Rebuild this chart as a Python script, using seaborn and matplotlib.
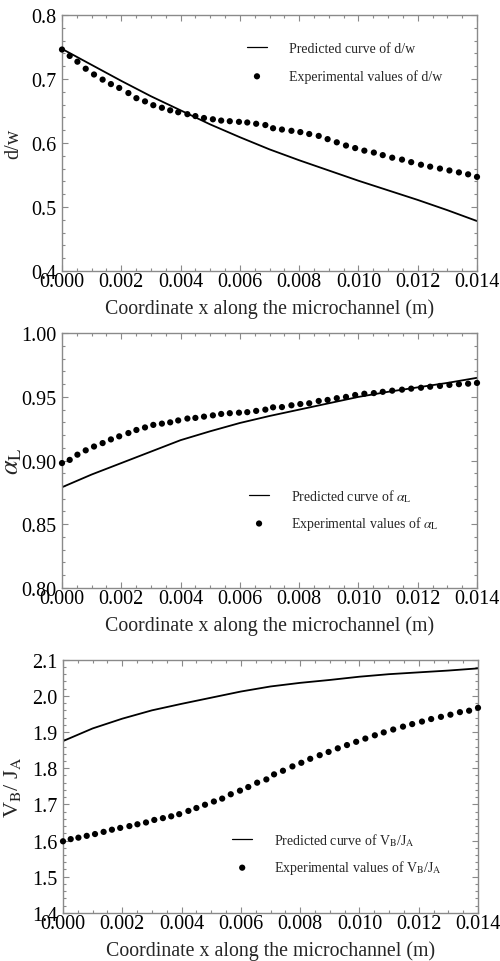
import numpy as np
import pandas as pd
import matplotlib
matplotlib.use("Agg")
import matplotlib.pyplot as plt
from matplotlib.ticker import MultipleLocator, FormatStrFormatter
import seaborn as sns

# ---------------- data ----------------
X_CURVE = [0.000, 0.001, 0.002, 0.003, 0.004, 0.005, 0.006, 0.007,
           0.008, 0.009, 0.010, 0.011, 0.012, 0.013, 0.014]

DW_CURVE = [0.747, 0.722, 0.697, 0.673, 0.651, 0.629, 0.609, 0.590,
            0.573, 0.557, 0.541, 0.526, 0.511, 0.495, 0.478]
AL_CURVE = [0.879, 0.889, 0.898, 0.907, 0.916, 0.923, 0.9295, 0.935,
            0.940, 0.945, 0.950, 0.954, 0.9575, 0.961, 0.965]
VJ_CURVE = [1.875, 1.910, 1.937, 1.960, 1.978, 1.995, 2.012, 2.026,
            2.036, 2.044, 2.053, 2.060, 2.065, 2.070, 2.076]

X_EXP = [0.0, 0.00026, 0.00052, 0.00080, 0.00108, 0.00137, 0.00165, 0.00193,
         0.00224, 0.00251, 0.00280, 0.00308, 0.00337, 0.00365, 0.00392, 0.00423,
         0.00450, 0.00479, 0.00509, 0.00537, 0.00566, 0.00597, 0.00625, 0.00655,
         0.00686, 0.00712, 0.00742, 0.00774, 0.00804, 0.00834, 0.00866, 0.00896,
         0.00927, 0.00958, 0.00989, 0.01020, 0.01052, 0.01082, 0.01114, 0.01147,
         0.01178, 0.01211, 0.01242, 0.01275, 0.01307, 0.01339, 0.01370, 0.01400]

DW_EXP = [0.746, 0.736, 0.727, 0.716, 0.707, 0.699, 0.692, 0.686, 0.678, 0.670,
          0.665, 0.659, 0.655, 0.651, 0.648, 0.645, 0.642, 0.639, 0.637, 0.635,
          0.634, 0.633, 0.632, 0.630, 0.628,
          0.623, 0.621, 0.619, 0.617, 0.614, 0.611, 0.606, 0.601, 0.596, 0.592,
          0.588, 0.585, 0.581, 0.577, 0.574, 0.570, 0.566, 0.563, 0.560, 0.557,
          0.554, 0.551, 0.547]
AL_EXP = [0.898, 0.9005, 0.9046, 0.908, 0.911, 0.9137, 0.9166, 0.919, 0.9216, 0.924,
          0.926, 0.928, 0.929, 0.930, 0.9315, 0.933, 0.9335, 0.9345, 0.9355, 0.9366,
          0.9372, 0.9376, 0.938, 0.939, 0.940,
          0.9418, 0.942, 0.9434, 0.9444, 0.945, 0.9468, 0.9476, 0.949, 0.950, 0.9515,
          0.9525, 0.953, 0.954, 0.9549, 0.9557, 0.9565, 0.9572, 0.958, 0.9586, 0.9594,
          0.960, 0.9604, 0.961]
VJ_EXP = [1.598, 1.604, 1.608, 1.613, 1.618, 1.624, 1.630, 1.635, 1.640, 1.645,
          1.650, 1.657, 1.662, 1.667, 1.673, 1.682, 1.690, 1.699, 1.708, 1.716,
          1.728, 1.738, 1.748, 1.760, 1.769,
          1.783, 1.793, 1.805, 1.815, 1.826, 1.836, 1.845, 1.855, 1.864, 1.873,
          1.882, 1.891, 1.899, 1.907, 1.915, 1.922, 1.929, 1.936, 1.942, 1.948,
          1.955, 1.959, 1.967]

X_LABEL = "Coordinate x along the microchannel (m)"
Y_LABELS = ["d/w", r"$\alpha_{\mathrm{L}}$", r"V$_{\mathrm{B}}$/ J$_{\mathrm{A}}$"]
LEG_PRED = ["Predicted curve of d/w",
            r"Predicted curve of $\alpha_{\mathrm{L}}$",
            r"Predicted curve of V$_{\mathrm{B}}$/J$_{\mathrm{A}}$"]
LEG_EXP = ["Experimental values of d/w",
           r"Experimental values of $\alpha_{\mathrm{L}}$",
           r"Experimental values of V$_{\mathrm{B}}$/J$_{\mathrm{A}}$"]
Y_LIMS = [(0.4, 0.8), (0.80, 1.00), (1.4, 2.1)]
Y_MAJOR = [0.1, 0.05, 0.1]
Y_MINOR = [0.02, 0.01, 0.02]
Y_FMT = ["%.1f", "%.2f", "%.1f"]

# ---------------- style ----------------
sns.set_style("ticks")
plt.rcParams["font.family"] = ["Liberation Serif", "DejaVu Serif"]
plt.rcParams["mathtext.fontset"] = "stix"

fig = plt.figure(figsize=(5.0, 9.62), dpi=100)

# axes rectangles [left, bottom, width, height] in figure fraction
RECTS = [[0.124, 0.7173, 0.830, 0.2661],
         [0.124, 0.3880, 0.830, 0.2645],
         [0.126, 0.0500, 0.830, 0.2632]]
LEG_POS = [(0.433, 0.915), (0.438, 0.418), (0.395, 0.345)]
LEG_SPACING = [1.0, 0.75, 0.75]
YLAB_X = [-0.094, -0.092, -0.096]
YLAB_SIZE = [14.5, 19, 16]

curves = [DW_CURVE, AL_CURVE, VJ_CURVE]
exps = [DW_EXP, AL_EXP, VJ_EXP]
frame_col = "#8a8a8a"

for i in range(3):
    ax = fig.add_axes(RECTS[i])
    dfc = pd.DataFrame({"x": X_CURVE, "y": curves[i]})
    dfe = pd.DataFrame({"x": X_EXP, "y": exps[i]})
    sns.lineplot(data=dfc, x="x", y="y", ax=ax, color="black", lw=1.3,
                 label=LEG_PRED[i])
    sns.scatterplot(data=dfe, x="x", y="y", ax=ax, color="black", s=20,
                    edgecolor="none", label=LEG_EXP[i], zorder=3, clip_on=False)
    ax.set_xlim(0, 0.014)
    ax.set_ylim(*Y_LIMS[i])
    ax.xaxis.set_major_locator(MultipleLocator(0.002))
    ax.xaxis.set_minor_locator(MultipleLocator(0.0005))
    ax.xaxis.set_major_formatter(FormatStrFormatter("%.3f"))
    ax.yaxis.set_major_locator(MultipleLocator(Y_MAJOR[i]))
    ax.yaxis.set_minor_locator(MultipleLocator(Y_MINOR[i]))
    ax.yaxis.set_major_formatter(FormatStrFormatter(Y_FMT[i]))
    ax.tick_params(which="both", direction="in", top=True, right=True,
                   color=frame_col, width=0.8)
    ax.tick_params(which="major", length=4, labelsize=14.5, labelcolor="black")
    ax.tick_params(which="minor", length=2)
    ax.tick_params(axis="x", which="major", pad=1)
    ax.tick_params(axis="y", which="major", pad=4)
    for sp in ax.spines.values():
        sp.set_color(frame_col)
        sp.set_linewidth(1.0)
        sp.set_visible(True)
    ax.set_xlabel(X_LABEL, fontsize=14.3, labelpad=5)
    ax.set_ylabel(Y_LABELS[i], fontsize=YLAB_SIZE[i])
    ax.yaxis.set_label_coords(YLAB_X[i], 0.5)
    leg = ax.legend(loc="upper left", bbox_to_anchor=LEG_POS[i], frameon=False,
                    fontsize=10, handlelength=1.4, handletextpad=1.6,
                    labelspacing=LEG_SPACING[i], borderaxespad=0)
    for h in leg.legend_handles:
        try:
            h.set_linewidth(0.9)
        except Exception:
            pass

fig.savefig("out.png", dpi=100)
